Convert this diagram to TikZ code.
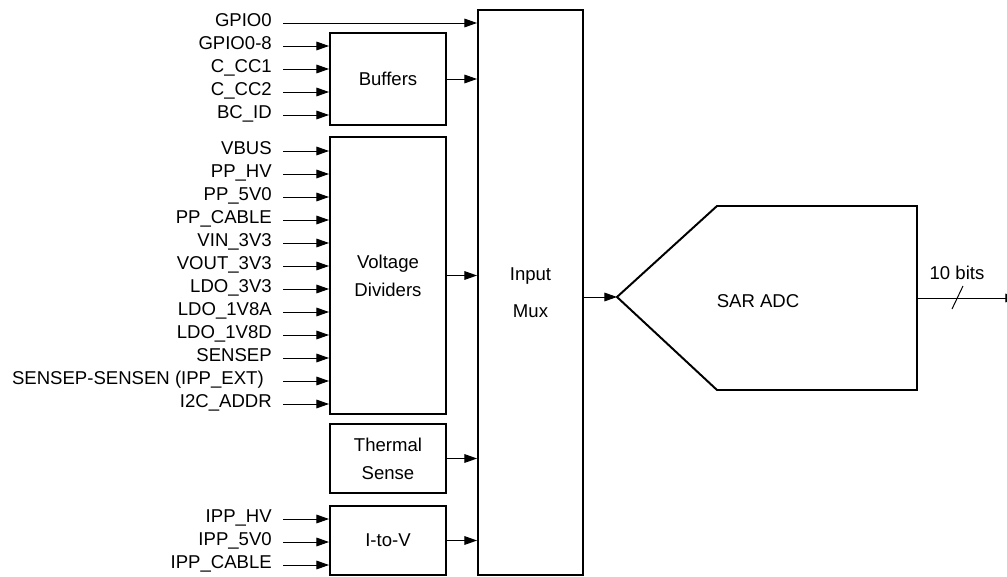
\documentclass[tikz,border=0pt]{standalone}
\usepackage{fontspec}
\setmainfont{Liberation Sans}
\usetikzlibrary{arrows.meta, calc}

\tikzset{
  blk/.style={draw, line width=1.4pt, align=center, minimum width=2.9cm},
  sig/.style={anchor=base east, inner sep=0pt, xshift=-7.8pt, yshift=-2.3pt},
  wire/.style={line width=0.7pt, -{Triangle[length=9pt,width=6.2pt]}},
}

\begin{document}
\begin{tikzpicture}[x=0.025cm, y=-0.025cm, font=\fontsize{13.2}{19.9}\selectfont]
        \useasboundingbox (0,0) rectangle (1007,577);
        % blocks in front of the mux
        \node[blk, minimum height=2.3cm] (buf) at (388,79) {Buffers};
        \node[blk, minimum height=6.925cm] (vdiv) at (388,275.5) {Voltage\\Dividers};
        \node[blk, minimum height=1.725cm] (therm) at (388,458.5) {Thermal\\Sense};
        \node[blk, minimum height=1.725cm] (itov) at (388,540.5) {I-to-V};
        \node[blk, minimum width=2.625cm, minimum height=14.125cm] (mux) at (530.5,292.5)
          {Input\\[6.4pt]Mux};
        % direct input
        \coordinate (gpio) at (283,23);
        \node[sig] (gpio-t) at (gpio) {GPIO0};
        \draw[wire] (gpio) -- (gpio -| mux.west);
        % signal inputs
        \foreach \t [count=\i] in {GPIO0-8, C\_CC1, C\_CC2, BC\_ID} {
          \coordinate (buf-in\i) at (283,23+23*\i);
          \node[sig] (buf-t\i) at (buf-in\i) {\t};
          \draw[wire] (buf-in\i) -- (buf-in\i -| buf.west);
        }
        \foreach \t [count=\i] in {VBUS, PP\_HV, PP\_5V0, PP\_CABLE, VIN\_3V3, VOUT\_3V3,
            LDO\_3V3, LDO\_1V8A, LDO\_1V8D, SENSEP, SENSEP-SENSEN (IPP\_EXT)\kern5.7pt,
            I2C\_ADDR} {
          \coordinate (vdiv-in\i) at (283,128+23*\i);
          \node[sig] (vdiv-t\i) at (vdiv-in\i) {\t};
          \draw[wire] (vdiv-in\i) -- (vdiv-in\i -| vdiv.west);
        }
        \foreach \t [count=\i] in {IPP\_HV, IPP\_5V0, IPP\_CABLE} {
          \coordinate (itov-in\i) at (283,496+23*\i);
          \node[sig] (itov-t\i) at (itov-in\i) {\t};
          \draw[wire] (itov-in\i) -- (itov-in\i -| itov.west);
        }
        % into the mux
        \draw[wire] (buf.east) -- (buf.east -| mux.west);
        \draw[wire] (vdiv.east) -- (vdiv.east -| mux.west);
        \draw[wire] (therm.east) -- (therm.east -| mux.west);
        \draw[wire] (itov.east) -- (itov.east -| mux.west);
        % converter
        \coordinate (adc-in) at (617,297);
        \coordinate (adc-out) at (917,298);
        \draw[line width=1.4pt] (adc-in) -- (717,206) -- (917,206) -- (917,390)
          -- (717,390) -- cycle;
        \node (adc) at (758,301) {SAR ADC};
        \draw[wire] (adc-in -| mux.east) -- (adc-in);
        \coordinate (dout) at (1018,298);
        \draw[wire] (adc-out) -- (dout);
        \coordinate (bus) at (957,298);
        \draw[line width=0.7pt] ([shift={(-5,11)}]bus) -- ([shift={(6,-12)}]bus);
        \node (bits) at (957,273) {10 bits};
      \end{tikzpicture}
\end{document}
